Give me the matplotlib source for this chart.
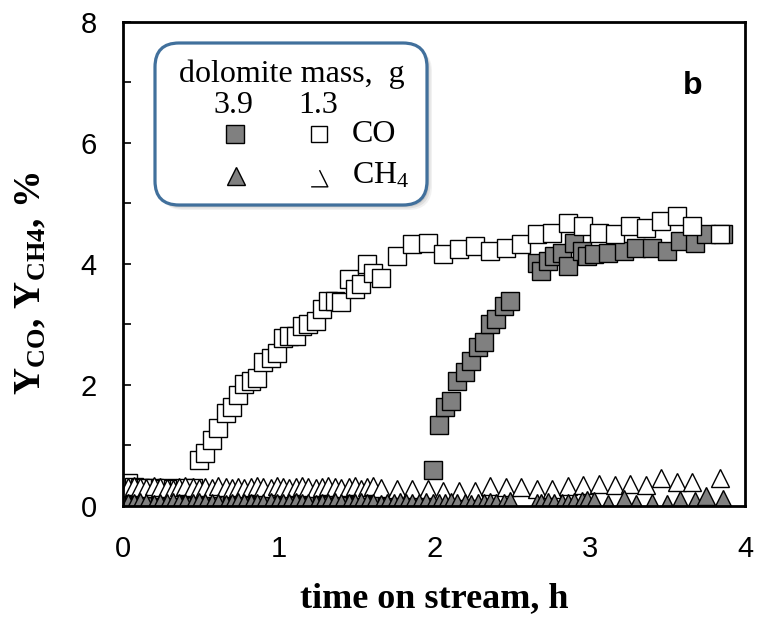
import matplotlib
matplotlib.use('Agg')
import matplotlib.pyplot as plt
from matplotlib.patches import FancyBboxPatch
from matplotlib.path import Path

plt.rcParams['font.family'] = 'Liberation Sans'
plt.rcParams['mathtext.fontset'] = 'custom'
plt.rcParams['mathtext.rm'] = 'Liberation Serif'
plt.rcParams['mathtext.it'] = 'Liberation Serif:italic'
plt.rcParams['mathtext.bf'] = 'Liberation Serif:bold'

# 1.3 g dolomite run (open markers)
time_13 = [0.03, 0.07, 0.11, 0.15, 0.20, 0.24, 0.28, 0.32, 0.36, 0.40, 0.45,
           0.49, 0.53, 0.57, 0.61, 0.66, 0.70, 0.74, 0.78, 0.82, 0.86, 0.90,
           0.95, 0.99, 1.03, 1.07, 1.11, 1.15, 1.19, 1.24, 1.28, 1.32, 1.36,
           1.40, 1.45, 1.49, 1.53, 1.57, 1.61, 1.66,
           1.76, 1.86, 1.96, 2.06, 2.16, 2.26, 2.36, 2.46, 2.56, 2.66, 2.76,
           2.86, 2.96, 3.06, 3.16, 3.26, 3.36, 3.46, 3.56, 3.66, 3.84]
co_13 = [0.38, 0.32, 0.30, 0.30, 0.30, 0.28, 0.30, 0.28, 0.28, 0.30, 0.30,
         0.76, 0.87, 1.09, 1.28, 1.53, 1.63, 1.83, 2.02, 2.07, 2.12, 2.37,
         2.44, 2.52, 2.77, 2.81, 2.81, 2.98, 3.01, 3.06, 3.26, 3.39, 3.39,
         3.37, 3.75, 3.59, 3.67, 4.00, 3.84, 3.77,
         4.13, 4.33, 4.35, 4.16, 4.25, 4.30, 4.21, 4.26, 4.33, 4.49, 4.51,
         4.67, 4.63, 4.51, 4.49, 4.63, 4.59, 4.71, 4.79, 4.63, 4.49]
ch4_13 = [0.31, 0.33, 0.31, 0.29, 0.33, 0.31, 0.29, 0.28, 0.31, 0.33, 0.31,
          0.29, 0.31, 0.29, 0.33, 0.31, 0.29, 0.31, 0.29, 0.31, 0.33, 0.31,
          0.29, 0.33, 0.31, 0.29, 0.31, 0.33, 0.31, 0.29, 0.31, 0.33, 0.31,
          0.29, 0.31, 0.33, 0.28, 0.31, 0.33, 0.30,
          0.28, 0.28, 0.28, 0.25, 0.25, 0.25, 0.33, 0.31, 0.31, 0.28, 0.28,
          0.33, 0.35, 0.37, 0.35, 0.37, 0.35, 0.46, 0.40, 0.40, 0.46]

# 3.9 g dolomite run (grey markers)
time_39 = [0.03, 0.07, 0.11, 0.15, 0.20, 0.24, 0.28, 0.32, 0.36, 0.40, 0.45,
           0.49, 0.53, 0.57, 0.61, 0.66, 0.70, 0.74, 0.78, 0.82, 0.86, 0.90,
           0.95, 0.99, 1.03, 1.07, 1.11, 1.15, 1.19, 1.24, 1.28, 1.32, 1.36,
           1.40, 1.45, 1.49, 1.53, 1.57, 1.61, 1.66, 1.70, 1.74, 1.78, 1.82,
           1.86, 1.90, 1.95,
           1.99, 2.03, 2.07, 2.11, 2.15, 2.20, 2.24, 2.28, 2.32, 2.36, 2.40,
           2.45, 2.49,
           2.66, 2.69, 2.73, 2.77, 2.82, 2.86, 2.90, 2.95, 2.98,
           3.03, 3.12, 3.22, 3.30, 3.40, 3.50, 3.58, 3.68, 3.75, 3.86]
co_39 = [0.00, 0.01, -0.02, 0.00, 0.01, -0.03, 0.00, 0.01, -0.02, 0.00, 0.01,
         0.00, -0.02, 0.01, 0.00, 0.01, -0.02, 0.00, 0.01, 0.00, -0.02, 0.01,
         0.00, 0.01, -0.03, 0.00, 0.01, 0.00, -0.02, 0.01, 0.00, 0.01, -0.02,
         0.00, 0.01, 0.00, -0.03, 0.01, 0.00, 0.01, -0.02, 0.00, 0.01, 0.00,
         -0.02, 0.01, 0.00,
         0.59, 1.33, 1.63, 1.74, 2.07, 2.21, 2.40, 2.62, 2.70, 3.01, 3.09,
         3.31, 3.39,
         4.02, 3.88, 4.05, 4.13, 4.18, 3.97, 4.35, 4.21, 4.13,
         4.16, 4.18, 4.21, 4.26, 4.26, 4.21, 4.38, 4.35, 4.49, 4.49]
ch4_39 = [0.05, 0.04, 0.06, 0.05, 0.03, 0.05, 0.04, 0.06, 0.05, 0.04, 0.05,
          0.06, 0.04, 0.05, 0.05, 0.03, 0.05, 0.06, 0.04, 0.05, 0.05, 0.04,
          0.06, 0.05, 0.04, 0.05, 0.06, 0.04, 0.05, 0.03, 0.05, 0.04, 0.06,
          0.05, 0.04, 0.05, 0.06, 0.04, 0.05, 0.03, 0.05, 0.04, 0.06, 0.05,
          0.04, 0.05, 0.06,
          0.05, 0.04, 0.05, 0.06, 0.04, 0.05, 0.03, 0.05, 0.04, 0.06, 0.05,
          0.04, 0.08,
          0.05, 0.04, 0.06, 0.05, 0.04, 0.05, 0.06, 0.08, 0.10,
          0.08, 0.03, 0.12, 0.03, 0.05, 0.03, 0.09, 0.08, 0.16, 0.12]

grey = '#808080'
ms = 13
mew = 1.0

fig = plt.figure(figsize=(7.57, 6.2), dpi=100)
ax = fig.add_axes([0.1625, 0.184, 0.822, 0.781])

ax.plot(time_39, co_39, 's', ms=ms, mfc=grey, mec='black', mew=mew, zorder=3)
ax.plot(time_13, co_13, 's', ms=ms, mfc='white', mec='black', mew=mew, zorder=4)
ax.plot(time_13, ch4_13, '^', ms=ms, mfc='white', mec='black', mew=mew, zorder=5)
ax.plot(time_39, ch4_39, '^', ms=ms, mfc=grey, mec='black', mew=mew, zorder=6)

ax.set_xlim(0, 4)
ax.set_ylim(0, 8)
ax.set_xticks([0, 1, 2, 3, 4])
ax.set_yticks([0, 2, 4, 6, 8])
ax.set_yticks([1, 3, 5, 7], minor=True)
ax.tick_params(axis='y', which='both', direction='in', length=5.5, width=1.2,
               labelsize=21, pad=19)
ax.tick_params(axis='x', length=0, labelsize=21, pad=21)
for s in ax.spines.values():
    s.set_linewidth(2.0)
    s.set_zorder(10)

ax.set_xlabel('time on stream, h', family='Liberation Serif', fontweight='bold',
              fontsize=26)
ax.set_ylabel(r'$\mathbf{Y}_{\mathbf{CO}}\mathbf{,\,Y}_{\mathbf{CH4}}\mathbf{,\,\%}$',
              fontsize=27)
ax.xaxis.set_label_coords(0.5, -0.157)
ax.yaxis.set_label_coords(-0.12, 0.46)

ax.text(0.915, 0.868, 'b', transform=ax.transAxes, fontsize=23,
        fontweight='bold', ha='center', va='center')

# legend box drawn by hand (figure inches)
tr = fig.dpi_scale_trans
for off, a in [(0.05, 0.10), (0.035, 0.15), (0.02, 0.2)]:
    fig.patches.append(FancyBboxPatch((1.55 + off, 4.15 - off), 2.72, 1.62,
                                      boxstyle='round,pad=0,rounding_size=0.24',
                                      transform=tr, fc='#7a7a7a', ec='none',
                                      alpha=a, zorder=20))
fig.patches.append(FancyBboxPatch((1.55, 4.15), 2.72, 1.62,
                                  boxstyle='round,pad=0,rounding_size=0.24',
                                  transform=tr, fc='white', ec='#41709c',
                                  lw=2.3, zorder=21))

serif = dict(family='Liberation Serif', fontsize=23, transform=tr, zorder=22)
fig.text(2.92, 5.38, 'dolomite mass,  g', ha='center', va='baseline', **serif)
fig.text(2.33, 5.07, '3.9', ha='center', va='baseline', **serif)
fig.text(3.18, 5.07, '1.3', ha='center', va='baseline', **serif)
fig.text(3.52, 4.78, 'CO', ha='left', va='baseline', **serif)
fig.text(3.52, 4.37, r'CH$_4$', ha='left', va='baseline', **serif)

half_tri = Path([(-1, -1), (1, -1), (0, 1)],
                [Path.MOVETO, Path.LINETO, Path.LINETO])
key = fig.add_axes([0, 0, 1, 1], facecolor='none', zorder=23)
key.set_axis_off()
key.plot([2.35], [4.86], 's', ms=ms, mfc=grey, mec='black', mew=mew, transform=tr)
key.plot([3.19], [4.86], 's', ms=ms - 1, mfc='white', mec='black', mew=mew, transform=tr)
key.plot([2.36], [4.44], '^', ms=ms, mfc=grey, mec='black', mew=mew, transform=tr)
key.plot([3.19], [4.42], marker=half_tri, ms=ms - 1, mfc='none', mec='black',
         mew=mew, ls='none', transform=tr)

fig.savefig('out.png', dpi=100)
